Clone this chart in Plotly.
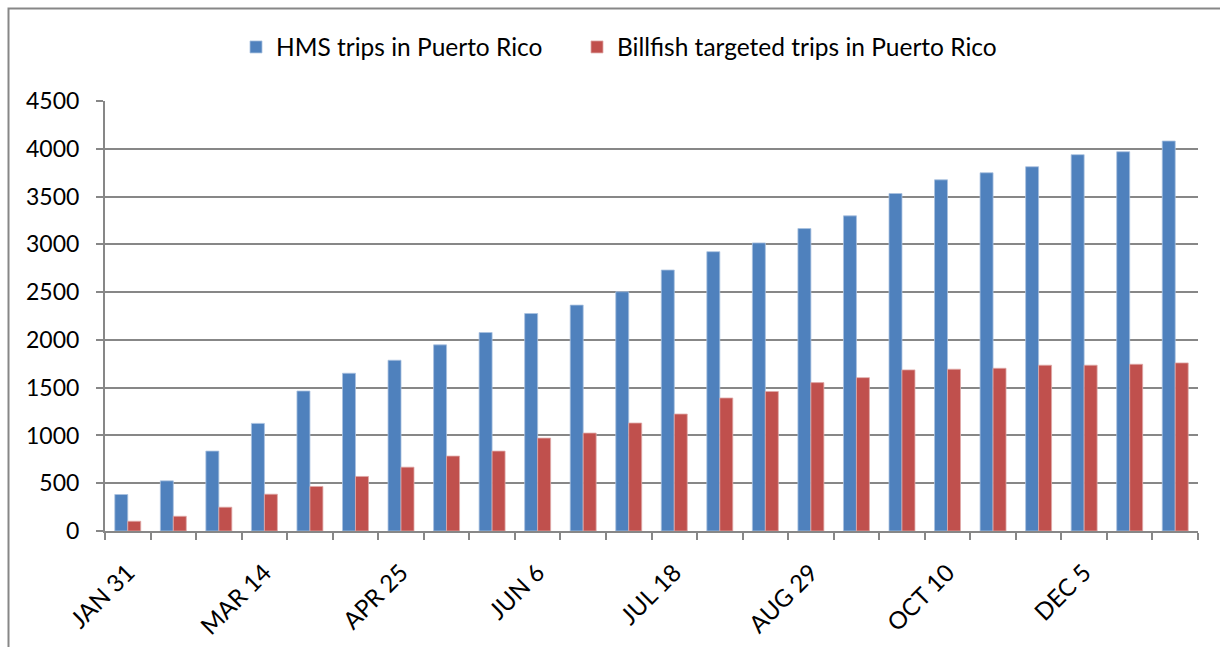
import plotly.graph_objects as go

categories = ["JAN 31", "FEB 14", "FEB 28", "MAR 14", "MAR 28", "APR 11",
              "APR 25", "MAY 9", "MAY 23", "JUN 6", "JUN 20", "JUL 4",
              "JUL 18", "AUG 1", "AUG 15", "AUG 29", "SEP 12", "SEP 26",
              "OCT 10", "OCT 24", "NOV 14", "DEC 5", "DEC 19", "DEC 31"]
tick_labels = ["JAN 31", "", "", "MAR 14", "", "", "APR 25", "", "", "JUN 6", "", "",
               "JUL 18", "", "", "AUG 29", "", "", "OCT 10", "", "", "DEC 5", "", ""]
hms_trips = [382, 525, 836, 1126, 1465, 1651, 1787, 1948, 2077, 2276, 2364, 2504,
             2731, 2923, 3015, 3165, 3298, 3532, 3675, 3749, 3812, 3938, 3969, 4081]
billfish_trips = [102, 154, 249, 385, 466, 571, 668, 784, 836, 972, 1025, 1130,
                  1224, 1392, 1460, 1553, 1605, 1686, 1693, 1703, 1735, 1735, 1745, 1759]

FONT = "Lato"
GRID = "#878787"

fig = go.Figure()
fig.add_trace(go.Bar(x=categories, y=hms_trips, name="HMS trips in Puerto Rico",
                     legend="legend",
                     marker=dict(color="#4F81BD", line=dict(color="#A9C1E0", width=0.8))))
fig.add_trace(go.Bar(x=categories, y=billfish_trips, name="Billfish targeted trips in Puerto Rico",
                     legend="legend2",
                     marker=dict(color="#C0504D", line=dict(color="#E0A9A8", width=0.8))))

W, H = 1220, 647
L, R, T, B = 105, 22, 101, 116
pw, ph = W - L - R, H - T - B

def px(x):
    return (x - L) / pw

def py(y):
    return (H - B - y) / ph

legend_font = dict(family=FONT, size=24.5, color="black")

fig.update_layout(
    width=W, height=H,
    margin=dict(l=L, r=R, t=T, b=B),
    paper_bgcolor="white", plot_bgcolor="white",
    barmode="group", bargap=0.43, bargroupgap=0,
    font=dict(family=FONT, size=22, color="black"),
    showlegend=True,
    legend=dict(orientation="h", x=px(236), xanchor="left", y=py(47), yanchor="middle",
                font=legend_font, bgcolor="rgba(0,0,0,0)"),
    legend2=dict(orientation="h", x=px(577), xanchor="left", y=py(47), yanchor="middle",
                 font=legend_font, bgcolor="rgba(0,0,0,0)"),
    xaxis=dict(type="category", tickmode="array", tickvals=categories, ticktext=tick_labels,
               tickangle=-45, tickson="boundaries", ticks="outside", ticklen=7, tickwidth=2,
               tickcolor=GRID, showline=True, linecolor=GRID, linewidth=2, showgrid=False,
               ticklabelstandoff=16, automargin=False,
               tickfont=dict(family=FONT, size=24), range=[-0.5, 23.5]),
    yaxis=dict(range=[0, 4500], dtick=500, tick0=0, ticks="outside", ticklen=7, tickwidth=2,
               tickcolor=GRID, showline=True, linecolor=GRID, linewidth=2,
               showgrid=True, gridcolor=GRID, gridwidth=2, zeroline=False, automargin=False,
               ticklabelstandoff=12, tickfont=dict(family=FONT, size=23)),
    shapes=[dict(type="rect", xref="paper", yref="paper",
                 x0=px(8.5), x1=px(1240), y0=py(670), y1=py(8.5),
                 line=dict(color=GRID, width=2), fillcolor="rgba(0,0,0,0)", layer="below")],
)

fig.write_html("out.html", config={"displayModeBar": False},
               post_script="document.body.style.margin='0';document.body.style.overflow='hidden';")
